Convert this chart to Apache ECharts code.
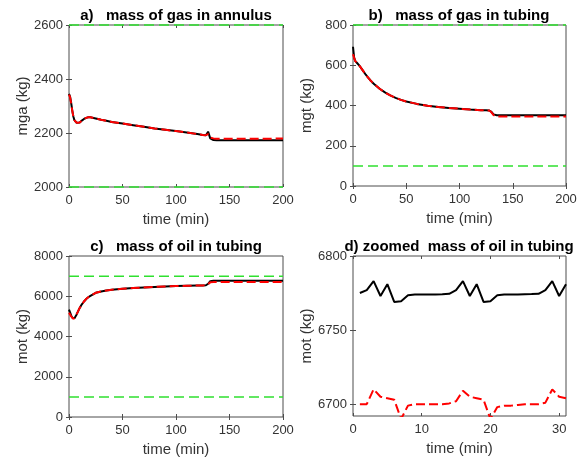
<!DOCTYPE html>
<html>
<head>
<meta charset="utf-8">
<script src="https://cdn.jsdelivr.net/npm/echarts@6/dist/echarts.min.js"></script>
<style>html,body{margin:0;padding:0;background:#fff}#c{width:584px;height:462px}</style>
</head>
<body>
<div id="c"></div>
<script>
// ---- data ----
const tMain = [0,1,2,3,4,5,6,7,8,10,12,14,16,18,20,25,30,35,40,45,50,60,70,80,90,100,110,120,125,128,129,130,131,132,133,135,138,140,150,160,170,180,190,200];
const mgaPlant = [2345,2335,2312,2285,2262,2248,2241,2238,2237,2239,2246,2252,2256,2258,2258,2254,2249,2245,2241,2238,2235,2229,2223,2217,2212,2207,2202,2196,2193,2192,2191,2205,2200,2180,2176,2174,2173,2173,2173,2173,2173,2173,2173,2173];
const mgaModel = [2342,2333,2310,2284,2262,2248,2241,2238,2237,2239,2246,2252,2256,2258,2258,2254,2249,2245,2241,2238,2235,2229,2223,2217,2212,2207,2202,2196,2193,2192,2191,2196,2192,2183,2181,2180,2179,2179,2179,2179,2179,2179,2179,2180];
const mgtPlant = [692,640,622,615,610,605,598,590,583,568,553,540,527,516,506,483,465,450,438,428,420,408,399,393,388,384,380,377,376,375,373,368,361,356,353,352,351,351,351,351,351,351,351,351];
const mgtModel = [655,638,622,615,610,605,598,590,583,568,553,540,527,516,506,483,465,450,438,428,420,408,399,393,388,384,380,377,376,375,373,366,358,352,348,346,345,345,345,345,345,345,345,345];
const motPlant = [5330,5200,5050,4940,4890,4900,4980,5080,5200,5420,5600,5740,5860,5950,6020,6170,6240,6290,6320,6350,6370,6410,6440,6465,6490,6505,6520,6535,6540,6545,6560,6620,6700,6750,6770,6775,6775,6775,6775,6775,6775,6775,6775,6775];
const motModel = [5180,5100,5000,4920,4880,4900,4980,5080,5200,5420,5600,5740,5860,5950,6020,6170,6240,6290,6320,6350,6370,6410,6440,6465,6490,6505,6520,6535,6540,6545,6555,6600,6660,6690,6700,6702,6702,6702,6702,6702,6702,6702,6702,6702];
const tZoom = [1,2,3,4,5,6,7,8,9,10,11,12,13,14,15,16,17,18,19,20,21,22,23,24,25,26,27,28,29,30,31];
const motZoomPlant = [6775,6777,6783,6773,6781,6769,6769.5,6773.5,6774,6774,6774,6774,6774.2,6774.5,6777,6783,6773,6781,6769,6769.5,6773.5,6774,6774,6774,6774.2,6774.3,6774.5,6777,6783,6773,6781];
const motZoomModel = [6700,6700,6710,6705,6704,6703,6690,6699,6700,6700,6700,6700,6700,6700.5,6702,6709,6705,6704,6703,6690,6698,6699,6699,6699.5,6700,6700,6700,6701,6710,6705,6704];
const mgaLimits = [2000, 2600];
const mgtLimits = [100, 800];
const motLimits = [1000, 7000];
const xTicksMain = [0,50,100,150,200];
const xTicksZoom = [0,10,20,30];
const yTicksA = [2000,2200,2400,2600];
const yTicksB = [0,200,400,600,800];
const yTicksC = [0,2000,4000,6000,8000];
const yTicksD = [6700,6750,6800];
const titles = ['a)   mass of gas in annulus','b)   mass of gas in tubing','c)   mass of oil in tubing','d) zoomed  mass of oil in tubing'];
const yNames = ['mga (kg)','mgt (kg)','mot (kg)','mot (kg)'];
const xName = 'time (min)';

// ---- chart ----
const FONT = 'Liberation Sans, Arial, Helvetica, sans-serif';
const AX = '#4d4d4d';
const TXT = '#333333';
const GREEN = '#2fe02f';
const grids = [
  {left:69, top:25, width:214, height:162},
  {left:353, top:25, width:213, height:161},
  {left:69, top:256, width:214, height:161},
  {left:353, top:256, width:213, height:160}
];
const xr = [{min:0,max:200,ticks:xTicksMain},{min:0,max:200,ticks:xTicksMain},{min:0,max:200,ticks:xTicksMain},{min:0,max:31,ticks:xTicksZoom}];
const yr = [{min:2000,max:2600,ticks:yTicksA},{min:0,max:800,ticks:yTicksB},{min:0,max:8000,ticks:yTicksC},{min:6692,max:6800,ticks:yTicksD}];
const fmt = v => String(v);

const xAxes = [], yAxes = [];
for (let i=0;i<4;i++){
  xAxes.push({type:'value', gridIndex:i, min:xr[i].min, max:xr[i].max,
    name:xName, nameLocation:'middle', nameGap:25,
    nameTextStyle:{color:TXT, fontSize:15, fontFamily:FONT},
    axisLine:{show:false}, splitLine:{show:false},
    axisTick:{inside:true, length:3, lineStyle:{color:AX}, customValues:xr[i].ticks},
    axisLabel:{color:TXT, fontSize:13, fontFamily:FONT, margin:7, customValues:xr[i].ticks, formatter:fmt}});
  yAxes.push({type:'value', gridIndex:i, min:yr[i].min, max:yr[i].max,
    name:yNames[i], nameLocation:'middle', nameGap:39, nameRotate:90,
    nameTextStyle:{color:TXT, fontSize:15, fontFamily:FONT},
    axisLine:{show:false}, splitLine:{show:false},
    axisTick:{inside:true, length:3, lineStyle:{color:AX}, customValues:yr[i].ticks},
    axisLabel:{color:TXT, fontSize:13, fontFamily:FONT, margin:6, customValues:yr[i].ticks, formatter:fmt}});
}
// mirror axes for box ticks
for (let i=0;i<4;i++){
  xAxes.push({type:'value', gridIndex:i, position:'top', min:xr[i].min, max:xr[i].max,
    axisLine:{show:false}, splitLine:{show:false}, axisLabel:{show:false},
    axisTick:{inside:true, length:3, lineStyle:{color:AX}, customValues:xr[i].ticks}});
  yAxes.push({type:'value', gridIndex:i, position:'right', min:yr[i].min, max:yr[i].max,
    axisLine:{show:false}, splitLine:{show:false}, axisLabel:{show:false},
    axisTick:{inside:true, length:3, lineStyle:{color:AX}, customValues:yr[i].ticks}});
}

const zip = (t, v) => t.map((x,k)=>[x, v[k]]);
const series = [];
const sets = [
  [tMain, mgaPlant, mgaModel, mgaLimits],
  [tMain, mgtPlant, mgtModel, mgtLimits],
  [tMain, motPlant, motModel, motLimits],
  [tZoom, motZoomPlant, motZoomModel, null]
];
sets.forEach((s,i)=>{
  series.push({type:'line', xAxisIndex:i, yAxisIndex:i, data:zip(s[0], s[1]), showSymbol:false,
    lineStyle:{color:'#000', width:2}, z:3, animation:false});
  series.push({type:'line', xAxisIndex:i, yAxisIndex:i, data:zip(s[0], s[2]), showSymbol:false,
    lineStyle:{color:'#ff0000', width:2, type:[9,4]}, z:4, animation:false});
  if (s[3]) s[3].forEach(v=>{
    series.push({type:'line', xAxisIndex:i, yAxisIndex:i, data:[[xr[i].min, v],[xr[i].max, v]],
      showSymbol:false, clip:false, silent:true,
      lineStyle:{color:GREEN, width:1.5, type:[10,5]}, z:5, animation:false});
  });
});

const titleCenters = [[176,8],[459,8],[176,239],[459,239]];
const option = {
  animation:false,
  backgroundColor:'#fff',
  title: titles.map((t,i)=>({text:t, left:titleCenters[i][0], top:titleCenters[i][1], textAlign:'center',
     padding:0, textStyle:{fontSize:15, fontWeight:'bold', color:'#000', fontFamily:FONT}})),
  grid: grids.map(g=>Object.assign({show:true, borderColor:AX, borderWidth:1, backgroundColor:'transparent'}, g)),
  xAxis: xAxes,
  yAxis: yAxes,
  series: series
};
const chart = echarts.init(document.getElementById('c'), null, {renderer:'canvas'});
chart.setOption(option);
</script>
</body>
</html>
